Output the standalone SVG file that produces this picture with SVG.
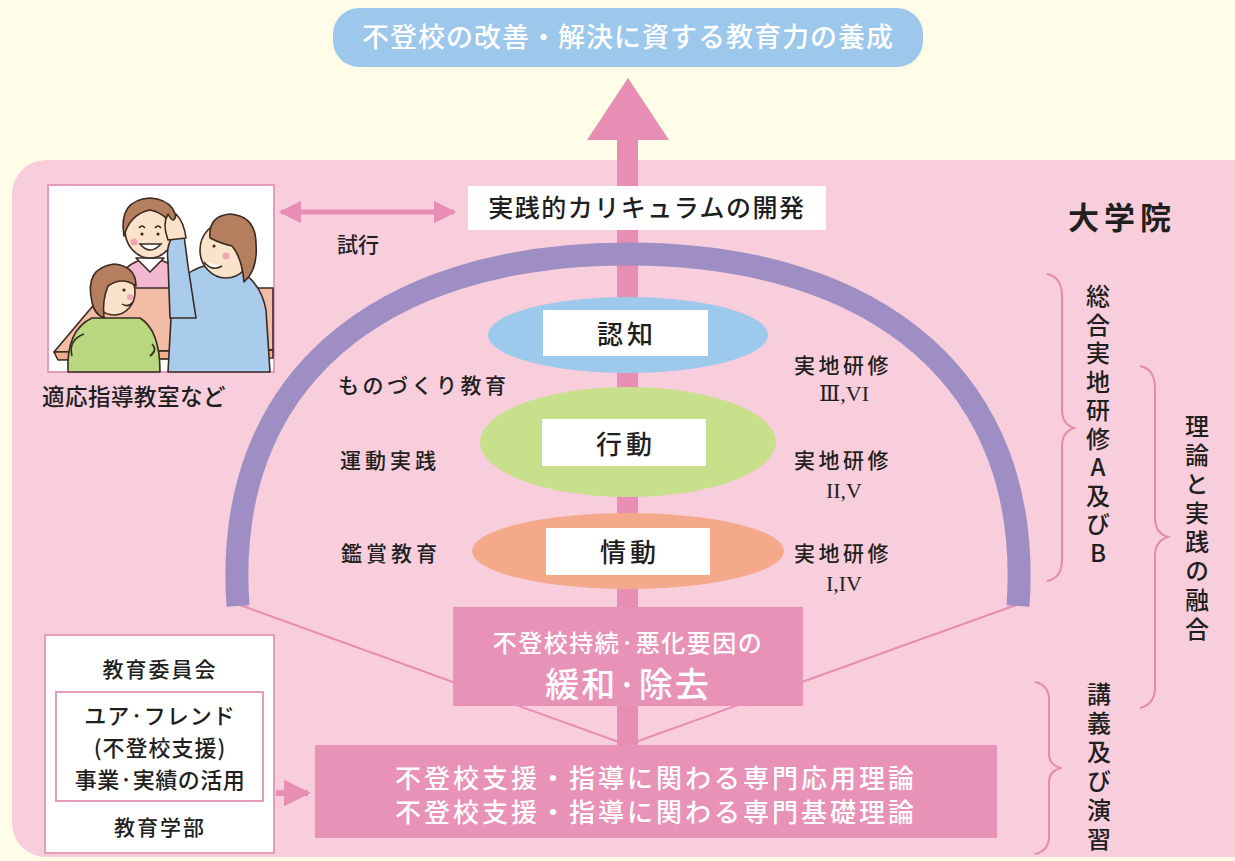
<svg xmlns="http://www.w3.org/2000/svg" width="1235" height="861" viewBox="0 0 1235 861">
  <defs>
    <style>
      .jp { font-family: "Noto Sans CJK JP", "Noto Sans", sans-serif; fill: #1f1f1f; font-weight: 500; }
      .wt { font-family: "Noto Sans CJK JP", "Noto Sans", sans-serif; fill: #ffffff; font-weight: 500; }
      .rn { font-family: "Liberation Serif", "DejaVu Serif", serif; fill: #1f1f1f; }
      .vt { writing-mode: vertical-rl; text-orientation: upright; }
      .brace { fill: none; stroke: #E38BAE; stroke-width: 2; }
      .ol { stroke: #3a2a22; stroke-width: 1.6; stroke-linejoin: round; }
      .conn { stroke: #E88DB3; fill: none; }
    </style>
    <marker id="ah" viewBox="0 0 10 10" refX="9" refY="5" markerWidth="4.5" markerHeight="4.5" orient="auto-start-reverse" markerUnits="strokeWidth">
      <path d="M0,0 L10,5 L0,10 z" fill="#E88DB3"/>
    </marker>
  </defs>

  <!-- background -->
  <rect x="0" y="0" width="1235" height="861" fill="#FFFDE8"/>
  <!-- graduate school panel -->
  <rect x="12" y="160" width="1260" height="697" rx="34" fill="#F8CEDC"/>

  <!-- goal -->
  <g id="goal">
    <rect x="333" y="8" width="590" height="59" rx="26" fill="#9DC8EC"/>
    <text x="628" y="47" text-anchor="middle" font-size="27" letter-spacing="1" class="wt">不登校の改善・解決に資する教育力の養成</text>
  </g>

  <!-- connectors -->
  <g id="connectors">
    <!-- central shaft and big arrow -->
    <rect x="617" y="138" width="21" height="608" fill="#E88DB3"/>
    <polygon points="587,140 669,140 628,78" fill="#E88DB3"/>
    <!-- converging lines -->
    <line class="conn" x1="240" y1="605" x2="627" y2="745" stroke-width="2"/>
    <line class="conn" x1="1016" y1="605" x2="627" y2="745" stroke-width="2"/>
    <!-- trial double arrow -->
    <line class="conn" x1="281" y1="212" x2="454" y2="212" stroke-width="5" marker-start="url(#ah)" marker-end="url(#ah)"/>
    <!-- arrow from faculty box -->
    <line class="conn" x1="276" y1="793" x2="308" y2="793" stroke-width="6" marker-end="url(#ah)"/>
  </g>

  <!-- purple arch -->
  <g id="arch">
    <path d="M 238 606 C 222 380, 380 254, 628 254 C 876 254, 1034 380, 1018 606" fill="none" stroke="#9E8EC4" stroke-width="23"/>
  </g>

  <!-- illustration -->
  <g id="classroom">
    <rect x="48" y="185" width="226" height="187" fill="#ffffff" stroke="#E59BB9" stroke-width="2"/>
    <!-- teacher (back) -->
    <path class="ol" d="M116 290 Q120 262 150 258 Q182 262 188 290 Z" fill="#F3B8D2"/>
    <path class="ol" d="M136 258 L150 272 L164 258 Z" fill="#ffffff"/>
    <ellipse class="ol" cx="150" cy="230" rx="25" ry="28" fill="#FBE3CB"/>
    <path class="ol" d="M124 236 Q118 200 150 198 Q182 200 176 236 Q170 214 150 210 Q130 214 124 236 Z" fill="#B57E5E"/>
    <path d="M139 228 q3 -4 6 0 M155 228 q3 -4 6 0" fill="none" stroke="#3a2a22" stroke-width="1.5"/>
    <circle cx="142" cy="234" r="1.6" fill="#3a2a22"/>
    <circle cx="158" cy="234" r="1.6" fill="#3a2a22"/>
    <path d="M140 244 Q150 256 161 244 Z" fill="#ffffff" stroke="#3a2a22" stroke-width="1.5"/>
    <circle cx="134" cy="242" r="3.5" fill="#F4A6B0"/>
    <!-- table -->
    <path class="ol" d="M54 352 L108 288 L273 288 L273 350 Z" fill="#F3BCA4"/>
    <path class="ol" d="M54 352 L273 350 L273 358 L58 360 Z" fill="#EFAE92"/>
    <!-- child (front left) -->
    <path class="ol" d="M68 372 Q66 330 92 318 L140 318 Q160 330 160 372 Z" fill="#B8D77E"/>
    <path class="ol" d="M72 356 Q68 340 84 334" fill="none"/>
    <path class="ol" d="M152 344 Q158 350 150 356" fill="none"/>
    <ellipse class="ol" cx="114" cy="292" rx="21" ry="23" fill="#FBE3CB"/>
    <path class="ol" d="M92 302 Q84 268 114 264 Q136 266 136 286 Q122 276 108 286 Q102 300 104 318 Q94 314 92 302 Z" fill="#B57E5E"/>
    <circle cx="124" cy="290" r="1.6" fill="#3a2a22"/>
    <path d="M122 304 Q128 308 133 302" fill="none" stroke="#3a2a22" stroke-width="1.5"/>
    <circle cx="130" cy="297" r="3" fill="#F4A6B0"/>
    <!-- man (right) -->
    <path class="ol" d="M168 372 L172 300 Q180 268 214 264 Q258 268 266 310 L270 372 Z" fill="#A9CBEC"/>
    <path class="ol" d="M170 318 L168 262 Q166 246 172 238 L184 236 Q186 250 188 266 L196 318 Z" fill="#A9CBEC"/>
    <path class="ol" d="M168 240 Q162 224 168 214 Q174 226 176 214 Q184 222 186 238 Z" fill="#FBE3CB"/>
    <ellipse class="ol" cx="226" cy="250" rx="26" ry="28" fill="#FBE3CB"/>
    <path class="ol" d="M210 238 Q208 216 230 214 Q256 216 256 244 Q258 270 244 282 Q242 258 232 246 Q222 244 210 238 Z" fill="#B57E5E"/>
    <circle cx="214" cy="246" r="1.6" fill="#3a2a22"/>
    <path d="M204 262 Q212 272 222 266" fill="#ffffff" stroke="#3a2a22" stroke-width="1.5"/>
    <circle cx="226" cy="256" r="3.5" fill="#F4A6B0"/>
  </g>
  <text x="134" y="405" text-anchor="middle" font-size="22.5" letter-spacing="0.5" class="jp">適応指導教室など</text>
  <text x="358" y="252" text-anchor="middle" font-size="21" class="jp">試行</text>

  <!-- curriculum -->
  <g id="curriculum">
    <rect x="468" y="186" width="358" height="44" fill="#ffffff"/>
    <text x="647" y="217" text-anchor="middle" font-size="25" letter-spacing="1.5" class="jp">実践的カリキュラムの開発</text>
  </g>

  <text x="1122" y="229" text-anchor="middle" font-size="31" font-weight="bold" letter-spacing="5" class="jp" style="font-weight:bold">大学院</text>

  <!-- cognition -->
  <g id="cognition">
    <ellipse cx="628" cy="335" rx="140" ry="38" fill="#9DC9EC"/>
    <rect x="543" y="310" width="165" height="46" fill="#ffffff"/>
    <text x="627" y="344" text-anchor="middle" font-size="26" letter-spacing="4" class="jp">認知</text>
  </g>
  <!-- behaviour -->
  <g id="behaviour">
    <ellipse cx="628" cy="442" rx="148" ry="55" fill="#C8DF8B"/>
    <rect x="542" y="419" width="164" height="47" fill="#ffffff"/>
    <text x="626" y="454" text-anchor="middle" font-size="26" letter-spacing="4" class="jp">行動</text>
  </g>
  <!-- emotion -->
  <g id="emotion">
    <ellipse cx="628" cy="551" rx="156" ry="38" fill="#F4A98B"/>
    <rect x="546" y="528" width="164" height="47" fill="#ffffff"/>
    <text x="630" y="562" text-anchor="middle" font-size="26" letter-spacing="4" class="jp">情動</text>
  </g>

  <!-- left labels -->
  <g id="left-labels" font-size="21">
    <text x="338" y="393" letter-spacing="3.5" class="jp">ものづくり教育</text>
    <text x="340" y="468" letter-spacing="4" class="jp">運動実践</text>
    <text x="341" y="561" letter-spacing="4" class="jp">鑑賞教育</text>
  </g>

  <!-- right labels -->
  <g id="right-labels" font-size="21">
    <text x="843" y="373" text-anchor="middle" letter-spacing="3.5" class="jp">実地研修</text>
    <text x="844" y="401" text-anchor="middle" font-size="22" class="rn">Ⅲ,VI</text>
    <text x="843" y="468" text-anchor="middle" letter-spacing="3.5" class="jp">実地研修</text>
    <text x="844" y="498" text-anchor="middle" font-size="22" class="rn">II,V</text>
    <text x="843" y="561" text-anchor="middle" letter-spacing="3.5" class="jp">実地研修</text>
    <text x="844" y="591" text-anchor="middle" font-size="22" class="rn">I,IV</text>
  </g>

  <!-- mitigation box -->
  <g id="mitigation">
    <rect x="453" y="607" width="350" height="99" fill="#E992B7"/>
    <text x="628" y="652" text-anchor="middle" font-size="24" letter-spacing="1.5" class="wt">不登校持続·悪化要因の</text>
    <text x="628" y="697" text-anchor="middle" font-size="34" letter-spacing="2" class="wt">緩和·除去</text>
  </g>

  <!-- theory box -->
  <g id="theory">
    <rect x="315" y="745" width="682" height="93" fill="#E992B7"/>
    <text x="656" y="788" text-anchor="middle" font-size="26" letter-spacing="3" class="wt">不登校支援・指導に関わる専門応用理論</text>
    <text x="656" y="822" text-anchor="middle" font-size="26" letter-spacing="3" class="wt">不登校支援・指導に関わる専門基礎理論</text>
  </g>

  <!-- board of education / faculty -->
  <g id="partners">
    <rect x="45" y="635" width="229" height="218" fill="#ffffff" stroke="#E59BB9" stroke-width="2"/>
    <rect x="56" y="692" width="207" height="109" fill="#ffffff" stroke="#E59BB9" stroke-width="2"/>
    <text x="160" y="677" text-anchor="middle" font-size="21" letter-spacing="2" class="jp">教育委員会</text>
    <text x="160" y="724" text-anchor="middle" font-size="22" letter-spacing="1" class="jp">ユア·フレンド</text>
    <text x="160" y="756" text-anchor="middle" font-size="22" letter-spacing="1" class="jp">(不登校支援)</text>
    <text x="160" y="788" text-anchor="middle" font-size="22" letter-spacing="0.5" class="jp">事業·実績の活用</text>
    <text x="160" y="835" text-anchor="middle" font-size="21" letter-spacing="2" class="jp">教育学部</text>
  </g>

  <!-- braces -->
  <g id="braces">
    <path class="brace" d="M1047 274 Q1062 277 1062 296 L1062 410 Q1062 424 1074 428 Q1062 432 1062 446 L1062 560 Q1062 578 1047 581"/>
    <path class="brace" d="M1140 366 Q1155 369 1155 388 L1155 518 Q1155 533 1168 537 Q1155 541 1155 556 L1155 688 Q1155 704 1140 708"/>
    <path class="brace" d="M1035 682 Q1049 685 1049 700 L1049 754 Q1049 765 1061 768 Q1049 771 1049 782 L1049 836 Q1049 851 1035 854"/>
  </g>

  <!-- vertical labels -->
  <g id="vertical-labels" font-size="24">
    <text class="jp vt" x="1098" y="284" letter-spacing="4.5">総合実地研修A及びB</text>
    <text class="jp vt" x="1197" y="414" letter-spacing="5">理論と実践の融合</text>
    <text class="jp vt" x="1099" y="682" letter-spacing="5">講義及び演習</text>
  </g>
</svg>
